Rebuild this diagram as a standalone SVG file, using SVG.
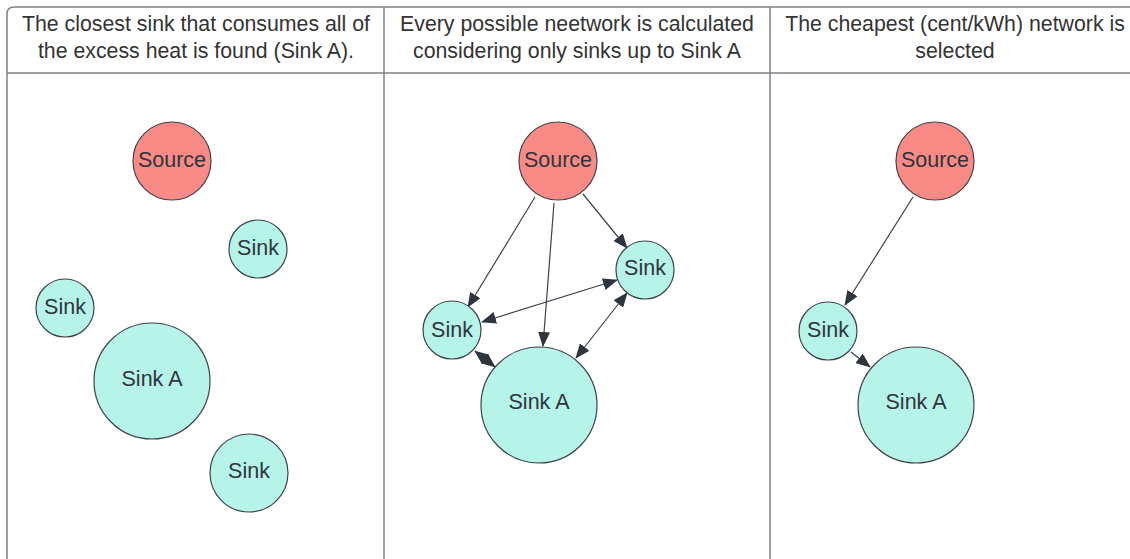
<svg xmlns="http://www.w3.org/2000/svg" width="1130" height="559" viewBox="0 0 1130 559">
<style>
.hdr{font-family:"Liberation Sans",Arial,sans-serif;font-size:21.3px;fill:#333;text-anchor:middle}
.lbl{font-family:"Liberation Sans",Arial,sans-serif;font-size:21.5px;fill:#2f353c;text-anchor:middle;dominant-baseline:central}
.src{fill:#f98a85;stroke:#3d434a;stroke-width:1.2}
.snk{fill:#b6f3e9;stroke:#3d434a;stroke-width:1.2}
.grid{stroke:#7d8288;stroke-width:1.5;fill:none}
.edge{stroke:#3d434a;stroke-width:1.2;fill:none;marker-end:url(#ah)}
.both{marker-start:url(#ah)}
</style>
<defs>
<marker id="ah" markerUnits="userSpaceOnUse" markerWidth="15" markerHeight="12" viewBox="0 0 15 12" refX="14" refY="6" orient="auto-start-reverse">
<path d="M0,0 L15,6 L0,12 Z" fill="#2f353c"/>
</marker>
</defs>
<rect width="1130" height="559" fill="#fff"/>
<g id="table">
<path class="grid" d="M7,559 V14 Q7,7 14,7 H1130"/>
<path class="grid" d="M7,73 H1130" stroke-width="2"/>
<path class="grid" d="M384,7 V559"/>
<path class="grid" d="M770,7 V559" stroke="#8a8f94"/>
</g>
<g id="headers">
<text class="hdr" x="196" y="31">The closest sink that consumes all of</text>
<text class="hdr" x="196" y="58">the excess heat is found (Sink A).</text>
<text class="hdr" x="577" y="31">Every possible neetwork is calculated</text>
<text class="hdr" x="577" y="58">considering only sinks up to Sink A</text>
<text class="hdr" x="955" y="31">The cheapest (cent/kWh) network is</text>
<text class="hdr" x="955" y="58">selected</text>
</g>
<g id="connectors">
<line class="edge" x1="535" y1="197" x2="468" y2="307"/>
<line class="edge" x1="554" y1="203" x2="543" y2="346"/>
<line class="edge" x1="583" y1="194" x2="627" y2="248"/>
<line class="edge both" x1="482" y1="322" x2="617" y2="280"/>
<line class="edge both" x1="627" y1="293" x2="576" y2="358"/>
<line class="edge both" x1="475" y1="351" x2="495" y2="367"/>
<line class="edge" x1="913" y1="197" x2="845" y2="305"/>
<line class="edge" x1="851" y1="352" x2="870" y2="367"/>
</g>
<g id="p1-source"><circle class="src" cx="172" cy="161" r="39"/><text class="lbl" x="172" y="160">Source</text></g>
<g id="p1-sink1"><circle class="snk" cx="258" cy="249" r="29"/><text class="lbl" x="258" y="248">Sink</text></g>
<g id="p1-sink2"><circle class="snk" cx="65" cy="308" r="29"/><text class="lbl" x="65" y="307">Sink</text></g>
<g id="p1-sinkA"><circle class="snk" cx="152" cy="381" r="58"/><text class="lbl" x="152" y="379">Sink A</text></g>
<g id="p1-sink3"><circle class="snk" cx="249" cy="473" r="39"/><text class="lbl" x="249" y="471">Sink</text></g>
<g id="p2-source"><circle class="src" cx="558" cy="161" r="39"/><text class="lbl" x="558" y="160">Source</text></g>
<g id="p2-sink1"><circle class="snk" cx="645" cy="270" r="29"/><text class="lbl" x="645" y="268">Sink</text></g>
<g id="p2-sink2"><circle class="snk" cx="452" cy="330" r="29"/><text class="lbl" x="452" y="330">Sink</text></g>
<g id="p2-sinkA"><circle class="snk" cx="539" cy="405" r="58"/><text class="lbl" x="539" y="402">Sink A</text></g>
<g id="p3-source"><circle class="src" cx="935" cy="161" r="39"/><text class="lbl" x="935" y="160">Source</text></g>
<g id="p3-sink"><circle class="snk" cx="828" cy="331" r="29"/><text class="lbl" x="828" y="330">Sink</text></g>
<g id="p3-sinkA"><circle class="snk" cx="916" cy="405" r="58"/><text class="lbl" x="916" y="402">Sink A</text></g>
</svg>
